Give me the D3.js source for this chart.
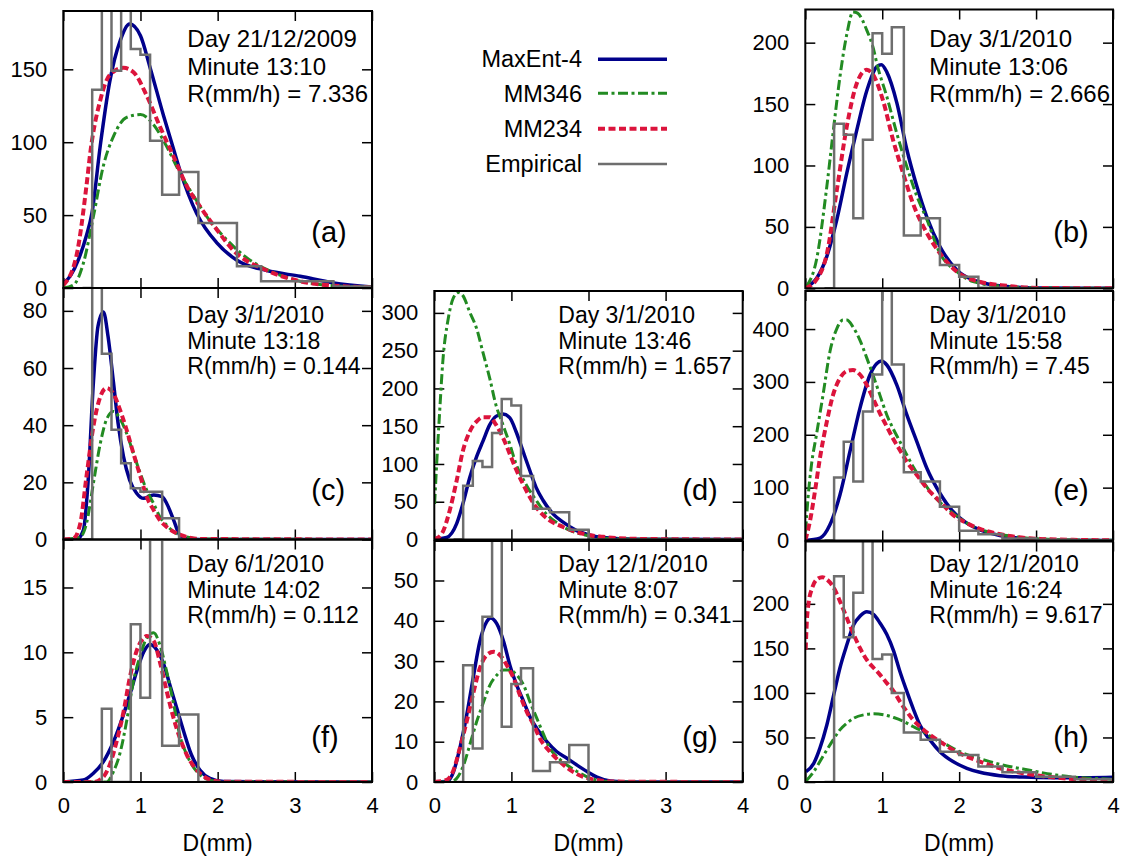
<!DOCTYPE html>
<html><head><meta charset="utf-8">
<script src="https://cdn.jsdelivr.net/npm/d3@7"></script>
<style>
html,body{margin:0;padding:0;background:#fff;}
svg{display:block;font-family:"Liberation Sans",Arial,Helvetica,sans-serif;}
</style></head><body>
<svg id="chart" width="1126" height="857"></svg>
<script>
// ---------------- DATA ----------------
const seriesNames = ["MaxEnt-4", "MM346", "MM234", "Empirical"];
const panelIds = ["a", "b", "c", "d", "e", "f", "g", "h"];
const dayLabels = ["Day 21/12/2009", "Day 3/1/2010", "Day 3/1/2010", "Day 3/1/2010", "Day 3/1/2010", "Day 6/1/2010", "Day 12/1/2010", "Day 12/1/2010"];
const minuteLabels = ["Minute 13:10", "Minute 13:06", "Minute 13:18", "Minute 13:46", "Minute 15:58", "Minute 14:02", "Minute 8:07", "Minute 16:24"];
const rainRates = ["7.336", "2.666", "0.144", "1.657", "7.45", "0.112", "0.341", "9.617"];
const yMaxes = [190, 227, 88, 329, 472, 18.7, 59.8, 270];
const yTicksList = [
  [0, 50, 100, 150],
  [0, 50, 100, 150, 200],
  [0, 20, 40, 60, 80],
  [0, 50, 100, 150, 200, 250, 300],
  [0, 100, 200, 300, 400],
  [0, 5, 10, 15],
  [0, 10, 20, 30, 40, 50],
  [0, 50, 100, 150, 200]
];
const xTicks = [0, 1, 2, 3, 4];
const xLabel = "D(mm)";

// disdrometer size-class centres (mm) for the empirical histograms
const classCenters = [0.312, 0.437, 0.562, 0.687, 0.812, 0.937, 1.062, 1.187, 1.375, 1.625, 1.875, 2.125, 2.375, 2.75, 3.25, 3.75, 4.25];

const empiricalA = [0, 136, 260, 149, 240, 164, 160, 101, 64, 79.5, 44.6, 44.6, 15, 4.6, 4.6, 1, 0.5];
const empiricalB = [0, 134, 125, 57, 121, 207.6, 191, 212.5, 43, 57, 19, 9.5, 0.5, 0.3, 0, 0, 0];
const empiricalC = [0, 110, 65, 38.4, 26.7, 17.9, 16.7, 16.7, 7.4, 0, 0, 0, 0, 0, 0, 0, 0];
const empiricalD = [0, 71, 104, 96, 141, 186, 177.5, 84, 40.7, 36, 13, 0, 0, 0, 0, 0, 0];
const empiricalE = [0, 119, 187, 111.5, 244, 314, 560, 333, 129, 111.5, 64, 18.3, 12, 4, 1.5, 0.5, 0];
const empiricalF = [0, 0, 5.65, 0, 0, 12.16, 6.5, 22, 2.8, 5.2, 0, 0, 0, 0, 0, 0, 0];
const empiricalG = [0, 29, 8.3, 41, 70, 13.7, 24.3, 28.2, 2.7, 4.9, 9.2, 0, 0, 0, 0, 0, 0];
const empiricalH = [0, 231, 162.5, 212.4, 320, 138, 143, 99.8, 55.5, 47.3, 34, 30.4, 17.3, 10.9, 6, 3, 1];

// fitted curves: [D (mm), N(D)]
const maxEntA = [[0,3],[0.1,9],[0.2,20],[0.3,36],[0.37,51],[0.48,98],[0.6,141],[0.74,170],[0.86,181],[1.0,173],[1.12,152],[1.3,118],[1.43,95],[1.51,81],[1.73,51],[1.99,31],[2.25,19],[2.64,12],[3.07,8],[3.5,3.5],[4,0.7]];
const mm346A = [[0,0],[0.13,2],[0.26,17],[0.39,49],[0.52,84],[0.65,104],[0.82,117],[1.0,119],[1.17,112],[1.34,97],[1.51,79],[1.69,63],[1.86,49],[2.12,33],[2.38,20.6],[2.64,12.6],[3.07,4.6],[3.5,1.6],[4,0.5]];
const mm234A = [[0,2],[0.17,22],[0.3,70],[0.35,93],[0.48,129],[0.6,146],[0.78,151],[0.91,148],[1.08,132],[1.25,111],[1.43,90],[1.6,70],[1.77,56],[1.99,40],[2.2,26],[2.64,12],[3.07,4.6],[3.5,1.6],[4,0.5]];

const maxEntB = [[0,0.8],[0.145,8],[0.28,26],[0.41,56],[0.54,94],[0.67,129],[0.8,161],[0.93,180.5],[0.99,182],[1.06,176],[1.19,151],[1.32,113],[1.45,83],[1.58,58],[1.75,34],[1.97,15],[2.18,6.8],[2.62,1.4],[3.05,0.3],[4,0]];
const mm346B = [[0.015,1.4],[0.145,23],[0.28,83],[0.36,126],[0.45,172],[0.54,207],[0.62,225],[0.68,224],[0.8,210],[0.89,194],[0.93,183],[1.06,156],[1.19,126],[1.32,99],[1.45,75],[1.58,56],[1.75,28.5],[1.97,13.6],[2.18,5.4],[2.62,1.4],[3.05,0.3],[4,0]];
const mm234B = [[0,0],[0.145,7],[0.28,28],[0.41,80],[0.54,132],[0.67,167],[0.8,178],[0.88,174],[1.01,153],[1.14,121],[1.27,94],[1.4,69],[1.58,45],[1.75,28.5],[1.97,13.6],[2.18,6.8],[2.62,2],[3.05,0.3],[4,0]];

const maxEntC = [[0,0],[0.17,0],[0.26,3.3],[0.32,19.7],[0.39,55],[0.45,74.7],[0.52,79.6],[0.58,71],[0.65,55],[0.71,40.7],[0.78,29],[0.86,20.8],[0.95,16.2],[1.04,14.4],[1.17,15.6],[1.28,15],[1.34,12.6],[1.43,6.8],[1.51,1.5],[1.6,0.35],[1.77,0],[4,0]];
const mm346C = [[0,0],[0.22,0.9],[0.3,5.6],[0.39,19.7],[0.48,33.7],[0.56,42],[0.65,44.8],[0.74,42],[0.82,37.2],[0.91,30],[1.0,23],[1.08,17.3],[1.17,12.6],[1.25,8],[1.34,5],[1.43,2.7],[1.6,0.9],[1.8,0.2],[4,0]];
const mm234C = [[0,0],[0.13,0.35],[0.22,5.6],[0.3,22],[0.39,39.6],[0.48,50],[0.56,53],[0.65,51],[0.74,45],[0.82,38.4],[0.91,30],[1.0,22],[1.08,15],[1.17,10.3],[1.25,6.8],[1.34,4.4],[1.43,2.7],[1.6,0.9],[1.77,0.2],[4,0]];

const maxEntD = [[0,0],[0.16,2.6],[0.29,21],[0.37,47],[0.46,82],[0.55,110],[0.63,130],[0.72,152],[0.8,163],[0.89,166],[0.98,161],[1.06,143],[1.15,117],[1.24,91],[1.32,69],[1.41,52],[1.54,34],[1.67,23],[1.84,12],[2.02,5.7],[2.19,2.6],[2.62,0.4],[4,0]];
const mm346D = [[0.004,47],[0.026,91],[0.07,170],[0.11,235],[0.18,292],[0.24,318],[0.31,327],[0.37,323],[0.46,301],[0.55,279],[0.63,248],[0.72,213],[0.8,178],[0.89,152],[0.98,126],[1.06,100],[1.19,73],[1.32,52],[1.45,34],[1.58,23],[1.76,12],[1.97,5.7],[2.19,1.7],[2.62,0.4],[4,0]];
const mm234D = [[0,0],[0.026,1.3],[0.11,10],[0.2,38.5],[0.29,78],[0.37,117],[0.46,143],[0.55,156.5],[0.63,162],[0.72,162],[0.8,152],[0.89,135],[0.98,113],[1.06,93],[1.15,73.5],[1.24,56],[1.32,43],[1.5,25],[1.67,16.6],[1.84,10],[2.02,5.7],[2.19,3.5],[2.62,0.9],[3.06,0.4],[4,0]];

const maxEntE = [[0,0],[0.19,4.4],[0.32,29.6],[0.45,86],[0.58,168],[0.71,250],[0.84,313],[0.93,335],[0.99,339.5],[1.06,332],[1.19,294],[1.32,237.5],[1.45,187],[1.58,136.7],[1.75,89.4],[1.92,54.8],[2.1,32.8],[2.27,20],[2.53,9.4],[2.88,3],[3.27,0.6],[4,0]];
const mm346E = [[0.004,17],[0.035,80],[0.08,143],[0.145,200],[0.23,275],[0.32,357],[0.41,401],[0.49,417],[0.54,417],[0.62,404],[0.71,379],[0.8,345],[0.88,313],[0.97,275],[1.06,237.5],[1.14,212],[1.23,187],[1.32,162],[1.4,140],[1.53,111.5],[1.66,86],[1.84,61],[2.01,42],[2.18,26.5],[2.44,14],[2.62,9.4],[3.05,3],[3.48,1.3],[4,0.3]];
const mm234E = [[0,0],[0.06,36],[0.125,92.6],[0.19,155.6],[0.28,225],[0.36,275],[0.45,307],[0.54,320.6],[0.62,322.5],[0.71,314],[0.8,294],[0.88,269],[0.97,240.6],[1.06,215.4],[1.14,193],[1.23,171],[1.32,149],[1.45,124],[1.58,99],[1.75,73.7],[1.92,48.5],[2.1,32.8],[2.27,22],[2.62,9.4],[3.05,3],[3.48,1.3],[4,0.3]];

const maxEntF = [[0,0],[0.26,0.15],[0.39,0.67],[0.52,1.57],[0.65,3.1],[0.78,5.2],[0.86,6.7],[0.95,8.5],[1.04,10],[1.12,10.6],[1.21,10.2],[1.3,9.1],[1.38,7.5],[1.47,5.7],[1.56,3.9],[1.66,2.1],[1.77,0.93],[1.9,0.28],[2.08,0.03],[4,0]];
const mm346F = [[0,0],[0.56,0],[0.65,0.8],[0.74,2.35],[0.82,4.67],[0.91,7.8],[1.0,9.8],[1.08,11.1],[1.17,11.5],[1.25,10.6],[1.34,8.5],[1.43,6],[1.51,3.6],[1.6,2.1],[1.73,0.8],[1.86,0.23],[2.03,0.03],[4,0]];
const mm234F = [[0,0],[0.39,0],[0.52,0.4],[0.6,1.3],[0.69,3.1],[0.78,5.4],[0.86,8],[0.95,10.1],[1.04,11.1],[1.08,11.26],[1.17,10.9],[1.25,9.3],[1.34,7],[1.43,4.9],[1.51,3.4],[1.6,2.1],[1.73,0.93],[1.86,0.28],[2.03,0.03],[4,0]];

const maxEntG = [[0,0],[0.16,0.1],[0.25,2.6],[0.33,8.3],[0.42,16.6],[0.51,26.5],[0.59,34.8],[0.68,39.8],[0.73,40.7],[0.81,39.3],[0.9,34.8],[0.98,29],[1.07,24],[1.16,19.9],[1.24,16.2],[1.33,13.3],[1.46,10],[1.59,7.5],[1.72,5.9],[1.85,4.2],[1.98,2.6],[2.11,1.2],[2.28,0.25],[2.54,0],[4,0]];
const mm346G = [[0,0],[0.2,0],[0.29,0.9],[0.38,4.2],[0.46,9.2],[0.55,15],[0.64,19.9],[0.72,24],[0.81,26.5],[0.9,27.8],[0.98,27.8],[1.07,26.5],[1.16,24],[1.24,19.9],[1.33,15.8],[1.42,11.7],[1.5,8.3],[1.59,6.3],[1.72,4.2],[1.85,2.6],[1.98,1.3],[2.15,0.3],[2.37,0],[4,0]];
const mm234G = [[0,0],[0.16,0.5],[0.25,3],[0.33,8.3],[0.42,15],[0.51,22.4],[0.59,28.2],[0.68,31.5],[0.77,32.3],[0.85,31.5],[0.94,29],[1.03,25.7],[1.11,21.6],[1.2,17.4],[1.29,14.1],[1.37,10.8],[1.5,7.5],[1.63,5],[1.76,3],[1.93,1.3],[2.11,0.5],[2.37,0.1],[4,0]];

const maxEntH = [[0.01,11.6],[0.11,21],[0.19,38],[0.28,64],[0.37,98],[0.45,128],[0.54,154],[0.63,176.7],[0.71,186],[0.8,191],[0.89,188],[0.97,178.6],[1.06,165.5],[1.15,146.7],[1.23,124],[1.32,101.7],[1.4,83],[1.49,64],[1.62,47.3],[1.75,34],[1.92,22.9],[2.1,15.4],[2.27,10.9],[2.53,7.1],[2.83,5.6],[3.26,4.9],[3.7,4.9],[4,5.3]];
const mm346H = [[0.01,1.1],[0.11,11.6],[0.19,22.9],[0.28,36],[0.37,48.4],[0.45,58.5],[0.54,66],[0.63,71.7],[0.76,75.4],[0.89,76.5],[1.02,75.4],[1.15,72.4],[1.28,68],[1.4,62.3],[1.53,56.7],[1.66,49.2],[1.84,41.7],[2.01,34],[2.18,28.5],[2.4,22.9],[2.62,18],[2.83,14.6],[3.05,10.9],[3.26,7.9],[3.48,5.6],[3.74,4.1],[4,3]];
const mm234H = [[0.005,148.6],[0.02,180.5],[0.04,199],[0.09,218],[0.15,227.4],[0.22,230],[0.28,227.4],[0.37,218],[0.45,203],[0.54,184],[0.63,165.5],[0.71,150.5],[0.8,137],[0.89,128],[0.97,120.5],[1.06,111],[1.15,101.7],[1.23,90.4],[1.32,79],[1.4,70],[1.49,62.3],[1.62,52.9],[1.75,45.4],[1.92,36],[2.1,28.5],[2.27,22.9],[2.53,15.4],[2.83,9.8],[3.26,4.9],[3.7,2.3],[4,1.1]];

// ---------------- LAYOUT / STYLE ----------------
const maxEntAll = [maxEntA, maxEntB, maxEntC, maxEntD, maxEntE, maxEntF, maxEntG, maxEntH];
const mm346All = [mm346A, mm346B, mm346C, mm346D, mm346E, mm346F, mm346G, mm346H];
const mm234All = [mm234A, mm234B, mm234C, mm234D, mm234E, mm234F, mm234G, mm234H];
const empiricalAll = [empiricalA, empiricalB, empiricalC, empiricalD, empiricalE, empiricalF, empiricalG, empiricalH];

const frames = [
  {x: 63.3, y: 11, w: 308.7, h: 277, row: 0},
  {x: 805.3, y: 9.5, w: 307.7, h: 278.8, row: 0},
  {x: 63.3, y: 288, w: 308.7, h: 251.5, row: 1},
  {x: 434.3, y: 291, w: 308.4, h: 248.5, row: 1},
  {x: 805.3, y: 291, w: 307.7, h: 249.5, row: 1},
  {x: 63.3, y: 539.5, w: 308.7, h: 242.5, row: 2},
  {x: 434.3, y: 541, w: 308.4, h: 241, row: 2},
  {x: 805.3, y: 541.5, w: 307.7, h: 240.5, row: 2}
];
const rowText = [
  {base: [47, 74.5, 102], size: 24, lab: 242},
  {base: [323, 348.5, 373.5], size: 23, lab: 500},
  {base: [572, 598, 622.5], size: 23, lab: 747}
];
const styles = {
  maxent: {color: "#00008b", width: 3.5, dash: null},
  mm346: {color: "#228b22", width: 3, dash: "10,3.5,3,3.5"},
  mm234: {color: "#dc143c", width: 4, dash: "7,3.5"},
  emp: {color: "#6e6e6e", width: 2.5, dash: null}
};
const FONT = '"Liberation Sans",Arial,Helvetica,sans-serif';

const svg = d3.select("#chart");
svg.append("rect").attr("width", 1126).attr("height", 857).attr("fill", "#fff");
const defs = svg.append("defs");

function stepPath(vals, x, y) {
  const c = classCenters, n = c.length;
  const edges = [c[0] - (c[1] - c[0]) / 2];
  for (let i = 0; i < n - 1; i++) edges.push((c[i] + c[i + 1]) / 2);
  edges.push(c[n - 1] + (c[n - 1] - c[n - 2]) / 2);
  const p = d3.path();
  p.moveTo(x(edges[0]), y(0));
  for (let i = 0; i < n; i++) {
    p.lineTo(x(edges[i]), y(vals[i]));
    p.lineTo(x(edges[i + 1]), y(vals[i]));
  }
  p.lineTo(x(edges[n]), y(0));
  return p.toString();
}

panelIds.forEach((id, i) => {
  const f = frames[i];
  const rt = rowText[f.row];
  const x = d3.scaleLinear().domain([0, 4]).range([f.x, f.x + f.w]);
  const y = d3.scaleLinear().domain([0, yMaxes[i]]).range([f.y + f.h, f.y]);
  const g = svg.append("g");

  defs.append("clipPath").attr("id", "clip-" + id)
    .append("rect").attr("x", f.x).attr("y", f.y).attr("width", f.w).attr("height", f.h);

  // axes with inward ticks
  const yt = yTicksList[i];
  const left = g.append("g").attr("transform", `translate(${f.x},0)`)
    .call(d3.axisLeft(y).tickValues(yt).tickSize(-10).tickPadding(16).tickFormat(d3.format("d")));
  const right = g.append("g").attr("transform", `translate(${f.x + f.w},0)`)
    .call(d3.axisRight(y).tickValues(yt).tickSize(-10).tickFormat(""));
  const bottom = g.append("g").attr("transform", `translate(0,${f.y + f.h})`)
    .call(d3.axisBottom(x).tickValues(xTicks).tickSize(-10).tickPadding(15)
      .tickFormat(f.row === 2 ? d3.format("d") : () => ""));
  const top = g.append("g").attr("transform", `translate(0,${f.y})`)
    .call(d3.axisTop(x).tickValues(xTicks).tickSize(-10).tickFormat(""));
  [left, right, bottom, top].forEach(a => {
    a.select(".domain").remove();
    a.selectAll(".tick line").attr("stroke", "#000").attr("stroke-width", 1.5);
    a.selectAll(".tick text").attr("fill", "#000").attr("font-size", 22).attr("font-family", FONT);
  });

  // series
  const plot = g.append("g").attr("clip-path", `url(#clip-${id})`);
  const line = d3.line().x(d => x(d[0])).y(d => y(d[1])).curve(d3.curveMonotoneX);
  const drawCurve = (data, st) => {
    const p = plot.append("path").attr("d", line(data)).attr("fill", "none")
      .attr("stroke", st.color).attr("stroke-width", st.width)
      .attr("stroke-linejoin", "round");
    if (st.dash) p.attr("stroke-dasharray", st.dash);
  };
  drawCurve(maxEntAll[i], styles.maxent);
  drawCurve(mm346All[i], styles.mm346);
  drawCurve(mm234All[i], styles.mm234);
  plot.append("path").attr("d", stepPath(empiricalAll[i], x, y)).attr("fill", "none")
    .attr("stroke", styles.emp.color).attr("stroke-width", styles.emp.width);

  // frame
  g.append("rect").attr("x", f.x).attr("y", f.y).attr("width", f.w).attr("height", f.h)
    .attr("fill", "none").attr("stroke", "#000").attr("stroke-width", 2);

  // annotation
  const tx = f.x + 124;
  [dayLabels[i], minuteLabels[i], "R(mm/h) = " + rainRates[i]].forEach((t, k) => {
    g.append("text").attr("x", tx).attr("y", rt.base[k]).attr("font-size", rt.size)
      .attr("fill", "#000").text(t);
  });
  g.append("text").attr("x", f.x + 248).attr("y", rt.lab).attr("font-size", 29)
    .attr("fill", "#000").text("(" + id + ")");

  if (f.row === 2) {
    g.append("text").attr("x", f.x + f.w / 2).attr("y", 851).attr("text-anchor", "middle")
      .attr("font-size", 23).attr("fill", "#000").text(xLabel);
  }
});

// legend
const legendStyles = [styles.maxent, styles.mm346, styles.mm234, styles.emp];
const legendBase = [67, 101.5, 136.5, 171.5];
const legendLineY = [59.3, 93.3, 128.7, 164];
const lg = svg.append("g");
seriesNames.forEach((name, k) => {
  lg.append("text").attr("x", 582).attr("y", legendBase[k]).attr("text-anchor", "end")
    .attr("font-size", 23.5).attr("fill", "#000").text(name);
  const st = legendStyles[k];
  const l = lg.append("line").attr("x1", 598).attr("x2", 667)
    .attr("y1", legendLineY[k]).attr("y2", legendLineY[k])
    .attr("stroke", st.color).attr("stroke-width", st.width);
  if (st.dash) l.attr("stroke-dasharray", st.dash);
});
</script>
</body></html>
